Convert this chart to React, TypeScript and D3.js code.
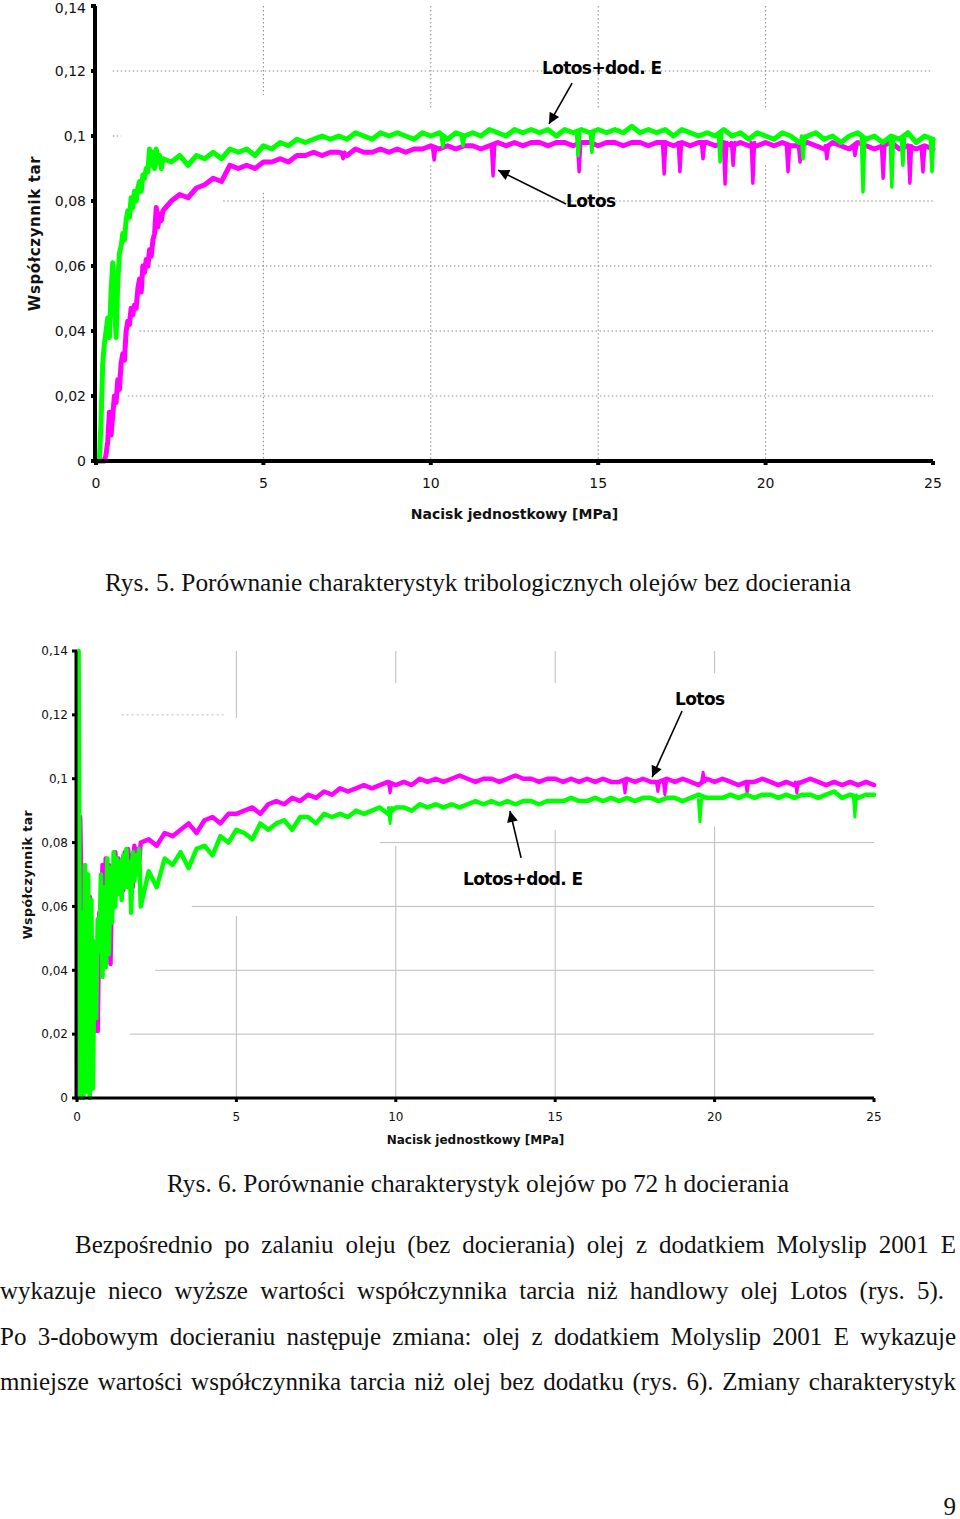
import { useEffect, useRef } from "react"
import * as d3 from "d3"

// Recorder sampling grid [MPa]: dense during the run-in, coarser afterwards
const earlyX = d3.range(1, 41).map((i) => +(i * 0.05).toFixed(2))
const lateX = d3.range(1, 93).map((i) => 2 + i * 0.25)
const sampleX = [...earlyX, ...lateX]

const MPA_TICKS = [0, 5, 10, 15, 20, 25]
const MU_TICKS = [0, 0.02, 0.04, 0.06, 0.08, 0.1, 0.12, 0.14]

// ---- Rys. 5: bez docierania ----
const lotos5Early = [
  0.0, 0.0, 0.0, 0.0, 0.0, 0.002, 0.006, 0.015, 0.008, 0.014,
  0.02, 0.018, 0.025, 0.022, 0.03, 0.033, 0.031, 0.04, 0.043, 0.042,
  0.047, 0.045, 0.048, 0.047, 0.053, 0.056, 0.052, 0.06, 0.058, 0.062,
  0.06, 0.065, 0.063, 0.068, 0.07, 0.078, 0.072, 0.076, 0.074, 0.077,
]
const lotos5Late = [
  0.08, 0.082, 0.081, 0.084,
  0.085, 0.087, 0.086, 0.091,
  0.09, 0.091, 0.09, 0.092,
  0.092, 0.093, 0.092, 0.094,
  0.094, 0.095, 0.094, 0.095,
  0.095, 0.094, 0.096, 0.095,
  0.095, 0.096, 0.095, 0.096,
  0.095, 0.096, 0.096, 0.097,
  0.096, 0.097, 0.096, 0.097,
  0.097, 0.096, 0.097, 0.098,
  0.097, 0.098, 0.097, 0.098,
  0.098, 0.097, 0.098, 0.098,
  0.097, 0.098, 0.098, 0.097,
  0.098, 0.098, 0.097, 0.098,
  0.098, 0.097, 0.098, 0.098,
  0.097, 0.098, 0.097, 0.098,
  0.098, 0.097, 0.098, 0.097,
  0.098, 0.097, 0.097, 0.098,
  0.097, 0.098, 0.097, 0.097,
  0.098, 0.097, 0.096, 0.098,
  0.097, 0.096, 0.098, 0.097,
  0.096, 0.097, 0.098, 0.096,
  0.097, 0.096, 0.097, 0.096,
]
const lotosE5Early = [
  0.0, 0.0, 0.012, 0.03, 0.036, 0.04, 0.044, 0.038, 0.052, 0.061,
  0.05, 0.038, 0.055, 0.064, 0.066, 0.07, 0.068, 0.074, 0.077, 0.075,
  0.081, 0.078, 0.083, 0.08, 0.084, 0.086, 0.083, 0.088, 0.087, 0.09,
  0.089, 0.096, 0.091, 0.095, 0.09, 0.096, 0.092, 0.094, 0.09, 0.093,
]
const lotosE5Late = [
  0.092, 0.094, 0.091, 0.094,
  0.093, 0.095, 0.093, 0.096,
  0.095, 0.096, 0.094, 0.097,
  0.096, 0.098, 0.097, 0.099,
  0.098, 0.099, 0.1, 0.099,
  0.1, 0.099, 0.101, 0.1,
  0.099, 0.101, 0.1, 0.101,
  0.1, 0.099, 0.101, 0.1,
  0.101, 0.099, 0.101, 0.1,
  0.101, 0.1, 0.102, 0.101,
  0.1, 0.102, 0.101, 0.102,
  0.101, 0.102, 0.1, 0.102,
  0.101, 0.102, 0.101, 0.102,
  0.101, 0.102, 0.101, 0.103,
  0.101, 0.102, 0.101, 0.102,
  0.1, 0.102, 0.101, 0.1,
  0.101, 0.1, 0.102, 0.1,
  0.101, 0.099, 0.101, 0.1,
  0.099, 0.101, 0.1, 0.098,
  0.1, 0.101, 0.099, 0.1,
  0.098, 0.1, 0.101, 0.099,
  0.1, 0.098, 0.1, 0.099,
  0.101, 0.098, 0.1, 0.099,
]
// short drops of the friction signal: [MPa, level before, lowest value]
const lotos5Dips: [number, number, number][] = [
  [7.38, 0.095, 0.093], [10.1, 0.0965, 0.0926], [11.86, 0.097, 0.0877], [14.43, 0.098, 0.089],
  [16.97, 0.098, 0.0883], [17.44, 0.098, 0.089], [18.13, 0.098, 0.093], [18.79, 0.098, 0.0852],
  [19.03, 0.098, 0.091], [19.62, 0.098, 0.0855], [20.67, 0.097, 0.089], [21.03, 0.097, 0.092],
  [21.83, 0.097, 0.093], [22.67, 0.097, 0.094], [23.51, 0.097, 0.087], [24.31, 0.097, 0.0855],
  [24.7, 0.096, 0.089],
]
const lotosE5Dips: [number, number, number][] = [
  [10.36, 0.1, 0.0966], [10.96, 0.1, 0.097], [14.4, 0.101, 0.094], [14.81, 0.101, 0.095],
  [18.64, 0.101, 0.092], [21.12, 0.1, 0.093], [22.91, 0.099, 0.0828], [23.77, 0.099, 0.0843],
  [24.1, 0.099, 0.091], [24.97, 0.099, 0.089],
]

// ---- Rys. 6: po 72 h docierania ----
const lotos6Early = [
  0.0, 0.088, 0.057, 0.067, 0.01, 0.07, 0.03, 0.063, 0.02, 0.045,
  0.021, 0.044, 0.021, 0.058, 0.05, 0.073, 0.042, 0.075, 0.048, 0.073,
  0.042, 0.07, 0.06, 0.077, 0.064, 0.075, 0.068, 0.072, 0.065, 0.077,
  0.07, 0.078, 0.072, 0.076, 0.066, 0.079, 0.07, 0.078, 0.074, 0.08,
]
const lotos6Late = [
  0.081, 0.079, 0.083, 0.082,
  0.084, 0.086, 0.083, 0.087,
  0.088, 0.086, 0.089, 0.089,
  0.09, 0.091, 0.089, 0.092,
  0.093, 0.092, 0.094, 0.093,
  0.095, 0.094, 0.096, 0.095,
  0.097, 0.096, 0.097, 0.098,
  0.097, 0.098, 0.099, 0.098,
  0.099, 0.098, 0.1, 0.099,
  0.1, 0.099, 0.1, 0.101,
  0.1, 0.099, 0.1, 0.1,
  0.099, 0.1, 0.101, 0.1,
  0.1, 0.099, 0.1, 0.1,
  0.099, 0.1, 0.099, 0.1,
  0.099, 0.1, 0.099, 0.099,
  0.1, 0.099, 0.1, 0.099,
  0.099, 0.1, 0.099, 0.1,
  0.099, 0.098, 0.1, 0.099,
  0.1, 0.099, 0.098, 0.099,
  0.099, 0.1, 0.099, 0.098,
  0.099, 0.098, 0.099, 0.1,
  0.099, 0.098, 0.099, 0.098,
  0.099, 0.098, 0.099, 0.098,
]
const lotosE6Early = [
  0.14, 0.0, 0.058, 0.0, 0.073, 0.002, 0.07, 0.0, 0.062, 0.003,
  0.049, 0.025, 0.056, 0.046, 0.07, 0.038, 0.066, 0.041, 0.075, 0.045,
  0.072, 0.055, 0.077, 0.06, 0.075, 0.064, 0.074, 0.062, 0.076, 0.066,
  0.078, 0.066, 0.074, 0.058, 0.077, 0.068, 0.076, 0.07, 0.078, 0.06,
]
const lotosE6Late = [
  0.071, 0.066, 0.075, 0.073,
  0.077, 0.072, 0.078, 0.079,
  0.076, 0.082, 0.08, 0.084,
  0.083, 0.081, 0.086, 0.084,
  0.086, 0.087, 0.084, 0.088,
  0.088, 0.086, 0.089, 0.088,
  0.089, 0.088, 0.09, 0.089,
  0.09, 0.091, 0.089, 0.091,
  0.091, 0.09, 0.092, 0.091,
  0.092, 0.091, 0.092, 0.091,
  0.092, 0.093, 0.092, 0.093,
  0.092, 0.093, 0.092, 0.093,
  0.093, 0.092, 0.093, 0.093,
  0.093, 0.094, 0.093, 0.093,
  0.094, 0.093, 0.094, 0.093,
  0.094, 0.093, 0.094, 0.094,
  0.093, 0.094, 0.094, 0.093,
  0.094, 0.095, 0.094, 0.094,
  0.094, 0.095, 0.094, 0.095,
  0.094, 0.095, 0.095, 0.094,
  0.095, 0.094, 0.095, 0.095,
  0.094, 0.095, 0.096, 0.094,
  0.095, 0.094, 0.095, 0.095,
]
const lotos6Dips: [number, number, number][] = [
  [9.82, 0.0985, 0.0955], [17.19, 0.099, 0.0955], [18.22, 0.099, 0.096], [18.44, 0.099, 0.095],
  [19.64, 0.099, 0.102], [21.02, 0.099, 0.0955], [22.58, 0.099, 0.0955],
]
const lotosE6Dips: [number, number, number][] = [
  [9.82, 0.091, 0.086], [19.54, 0.0935, 0.0865], [24.4, 0.095, 0.088],
]

const paragraph = [
  { text: "Bezpośrednio po zalaniu oleju (bez docierania) olej z dodatkiem Molyslip 2001 E", x0: 75, x1: 956, y: 1253 },
  { text: "wykazuje nieco wyższe wartości współczynnika tarcia niż handlowy olej Lotos (rys. 5).", x0: 0, x1: 944, y: 1299 },
  { text: "Po 3-dobowym docieraniu następuje zmiana: olej z dodatkiem Molyslip 2001 E wykazuje", x0: 0, x1: 956, y: 1345 },
  { text: "mniejsze wartości współczynnika tarcia niż olej bez dodatku (rys. 6). Zmiany charakterystyk", x0: 0, x1: 956, y: 1390 },
]

const GREEN = "#00ff00"
const MAGENTA = "#ff00ff"
const SANS = "'DejaVu Sans', Verdana, sans-serif"
const SERIF = "'Liberation Serif', 'Times New Roman', serif"
const DIP_HALF = 0.05

const fmt = (v: number) => String(+v.toFixed(2)).replace(".", ",")

type Dip = [number, number, number]
type Note = { text: string; at: [number, number]; from: [number, number]; to: [number, number] }
type Layout = {
  id: string
  left: number
  right: number
  top: number
  bottom: number
  axisWidth: number
  tickFont: number
  xTitleFont: number
  yTitleFont: number
  yTitleSpacing: number
  yTitleX: number
  xTitleY: number
  yTickGap: number
  xTickDy: number
  lineWidth: number
  gridColor: string
  gridDash?: string
  hGrid: { v: number; from: number; to?: number; dash?: string }[]
  vGrid: { x: number; upper: number; lower: number }[]
  lotos: number[]
  lotosE: number[]
  lotosDips: Dip[]
  lotosEDips: Dip[]
  notes: Note[]
}

const chart5: Layout = {
  id: "r5",
  left: 96, right: 933, top: 6, bottom: 461,
  axisWidth: 4, tickFont: 14, xTitleFont: 14, yTitleFont: 15, yTitleSpacing: 0.6,
  yTitleX: 35, xTitleY: 519, yTickGap: 10, xTickDy: 27, lineWidth: 5,
  gridColor: "#8a8a8a", gridDash: "1.5 2.5",
  hGrid: [
    { v: 0.12, from: 0.5 }, { v: 0.1, from: 0.5, to: 0.75 }, { v: 0.08, from: 3.8 },
    { v: 0.06, from: 1.85 }, { v: 0.04, from: 1.3 }, { v: 0.02, from: 0.95 },
  ],
  vGrid: [
    { x: 5, upper: 0.1126, lower: 0.0825 }, { x: 10, upper: 0.108, lower: 0.091 },
    { x: 15, upper: 0.108, lower: 0.091 }, { x: 20, upper: 0.108, lower: 0.091 },
  ],
  lotos: [...lotos5Early, ...lotos5Late],
  lotosE: [...lotosE5Early, ...lotosE5Late],
  lotosDips: lotos5Dips,
  lotosEDips: lotosE5Dips,
  notes: [
    { text: "Lotos+dod. E", at: [13.32, 0.1191], from: [14.22, 0.1163], to: [13.53, 0.1037] },
    { text: "Lotos", at: [14.04, 0.0782], from: [14.04, 0.0791], to: [12.01, 0.0895] },
  ],
}

const chart6: Layout = {
  id: "r6",
  left: 77, right: 874, top: 651, bottom: 1098,
  axisWidth: 3, tickFont: 12, xTitleFont: 12, yTitleFont: 12.5, yTitleSpacing: 0.5,
  yTitleX: 27, xTitleY: 1144, yTickGap: 9, xTickDy: 23, lineWidth: 4.5,
  gridColor: "#bdbdbd",
  hGrid: [
    { v: 0.12, from: 1.4, to: 4.7, dash: "2 3" }, { v: 0.08, from: 9.5 },
    { v: 0.06, from: 3.6 }, { v: 0.04, from: 2.45 }, { v: 0.02, from: 1.66 },
  ],
  vGrid: [
    { x: 5, upper: 0.119, lower: 0.057 }, { x: 10, upper: 0.13, lower: 0.079 },
    { x: 15, upper: 0.13, lower: 0.084 }, { x: 20, upper: 0.133, lower: 0.085 },
  ],
  lotos: [...lotos6Early, ...lotos6Late],
  lotosE: [...lotosE6Early, ...lotosE6Late],
  lotosDips: lotos6Dips,
  lotosEDips: lotosE6Dips,
  notes: [
    { text: "Lotos", at: [18.76, 0.1231], from: [18.98, 0.1212], to: [18.04, 0.1005] },
    { text: "Lotos+dod. E", at: [12.11, 0.0667], from: [13.93, 0.0752], to: [13.58, 0.0899] },
  ],
}

function FrictionChart({ c }: { c: Layout }) {
  const x = d3.scaleLinear().domain([0, 25]).range([c.left, c.right])
  const y = d3.scaleLinear().domain([0, 0.14]).range([c.bottom, c.top])
  const line = d3
    .line<number>()
    .x((_, i) => x(sampleX[i]))
    .y((d) => y(d))
  const seg = d3
    .line<[number, number]>()
    .x((d) => x(d[0]))
    .y((d) => y(d[1]))
  const dipPath = (d: Dip) =>
    seg([
      [d[0] - DIP_HALF, d[1]],
      [d[0], d[2]],
      [d[0] + DIP_HALF, d[1]],
    ]) || ""
  const marker = `arrow-${c.id}`
  const midY = (c.top + c.bottom) / 2

  return (
    <g>
      <defs>
        <marker
          id={marker}
          viewBox="0 0 10 10"
          refX={10}
          refY={5}
          markerWidth={14}
          markerHeight={11}
          markerUnits="userSpaceOnUse"
          orient="auto"
        >
          <path d="M0,0 L10,5 L0,10 z" fill="#000" />
        </marker>
      </defs>

      {/* grid */}
      {c.hGrid.map((g) => (
        <line
          key={`h${g.v}`}
          x1={x(g.from)}
          x2={x(g.to ?? 25)}
          y1={y(g.v)}
          y2={y(g.v)}
          stroke={c.gridColor}
          strokeWidth={1}
          strokeDasharray={g.dash ?? c.gridDash}
        />
      ))}
      {c.vGrid.map((g) => (
        <g key={`v${g.x}`} stroke={c.gridColor} strokeWidth={1} strokeDasharray={c.gridDash}>
          <line x1={x(g.x)} x2={x(g.x)} y1={y(0.14)} y2={y(g.upper)} />
          <line x1={x(g.x)} x2={x(g.x)} y1={y(g.lower)} y2={y(0)} />
        </g>
      ))}

      {/* curves */}
      <g fill="none" strokeLinejoin="round" strokeLinecap="round">
        <path d={line(c.lotos) || ""} stroke={MAGENTA} strokeWidth={c.lineWidth} />
        {c.lotosDips.map((d) => (
          <path key={`m${d[0]}`} d={dipPath(d)} stroke={MAGENTA} strokeWidth={c.lineWidth - 1.5} />
        ))}
        <path d={line(c.lotosE) || ""} stroke={GREEN} strokeWidth={c.lineWidth} />
        {c.lotosEDips.map((d) => (
          <path key={`g${d[0]}`} d={dipPath(d)} stroke={GREEN} strokeWidth={c.lineWidth - 1.5} />
        ))}
      </g>

      {/* axes */}
      <g stroke="#000">
        <line x1={c.left - 1} x2={c.left - 1} y1={y(0.14)} y2={y(0) + c.axisWidth / 2} strokeWidth={c.axisWidth} />
        <line x1={c.left - 1} x2={c.right} y1={y(0)} y2={y(0)} strokeWidth={c.axisWidth} />
        {MU_TICKS.map((t) => (
          <line key={`yt${t}`} x1={c.left - 5} x2={c.left} y1={y(t)} y2={y(t)} strokeWidth={c.axisWidth} />
        ))}
        {MPA_TICKS.map((t) => (
          <line key={`xt${t}`} x1={x(t)} x2={x(t)} y1={y(0)} y2={y(0) + 4} strokeWidth={c.axisWidth} />
        ))}
      </g>

      <g fontFamily={SANS} fontSize={c.tickFont} fill="#111">
        {MU_TICKS.map((t) => (
          <text
            key={`yl${t}`}
            x={c.left - c.yTickGap}
            y={Math.max(y(t), c.tickFont * 0.55)}
            dy="0.36em"
            textAnchor="end"
          >
            {fmt(t)}
          </text>
        ))}
        {MPA_TICKS.map((t) => (
          <text key={`xl${t}`} x={x(t)} y={y(0) + c.xTickDy} textAnchor="middle">
            {t}
          </text>
        ))}
      </g>

      <text
        x={(c.left + c.right) / 2}
        y={c.xTitleY}
        textAnchor="middle"
        fontFamily={SANS}
        fontWeight="bold"
        fontSize={c.xTitleFont}
        fill="#111"
      >
        Nacisk jednostkowy [MPa]
      </text>
      <text
        transform={`translate(${c.yTitleX},${midY}) rotate(-90)`}
        textAnchor="middle"
        dy="0.36em"
        fontFamily={SANS}
        fontWeight="bold"
        fontSize={c.yTitleFont}
        letterSpacing={c.yTitleSpacing}
        fill="#111"
      >
        Współczynnik tar
      </text>

      {/* annotations */}
      {c.notes.map((n) => (
        <g key={n.text}>
          <text
            x={x(n.at[0])}
            y={y(n.at[1])}
            fontFamily={SANS}
            fontWeight="bold"
            fontSize={17}
            letterSpacing={-0.6}
            fill="#000"
          >
            {n.text}
          </text>
          <line
            x1={x(n.from[0])}
            y1={y(n.from[1])}
            x2={x(n.to[0])}
            y2={y(n.to[1])}
            stroke="#000"
            strokeWidth={1.6}
            markerEnd={`url(#${marker})`}
          />
        </g>
      ))}
    </g>
  )
}

export default function App() {
  const textRef = useRef<SVGGElement>(null)

  // justify the paragraph lines by spreading the word gaps
  useEffect(() => {
    document.body.style.margin = "0"
    if (!textRef.current) return
    d3.select(textRef.current)
      .selectAll<SVGTextElement, unknown>("text.jline")
      .each(function () {
        this.style.wordSpacing = "0px"
        const target = +(this.getAttribute("data-width") || 0)
        const natural = this.getComputedTextLength()
        const gaps = (this.textContent || "").split(" ").length - 1
        if (gaps > 0) this.style.wordSpacing = `${(target - natural) / gaps}px`
      })
  }, [])

  return (
    <svg width={960} height={1519} viewBox="0 0 960 1519" style={{ display: "block", background: "#fff" }}>
      <rect width={960} height={1519} fill="#fff" />
      <FrictionChart c={chart5} />
      <text
        x={105}
        y={591}
        fontFamily={SERIF}
        fontSize={25}
        textLength={746}
        lengthAdjust="spacingAndGlyphs"
        fill="#111"
      >
        Rys. 5. Porównanie charakterystyk tribologicznych olejów bez docierania
      </text>

      <FrictionChart c={chart6} />
      <text
        x={167}
        y={1192}
        fontFamily={SERIF}
        fontSize={25}
        textLength={622}
        lengthAdjust="spacingAndGlyphs"
        fill="#111"
      >
        Rys. 6. Porównanie charakterystyk olejów po 72 h docierania
      </text>

      <g ref={textRef} fontFamily={SERIF} fontSize={25} fill="#111">
        {paragraph.map((p) => (
          <text key={p.y} className="jline" x={p.x0} y={p.y} data-width={p.x1 - p.x0}>
            {p.text}
          </text>
        ))}
        <text x={956} y={1515} textAnchor="end">
          9
        </text>
      </g>
    </svg>
  )
}
